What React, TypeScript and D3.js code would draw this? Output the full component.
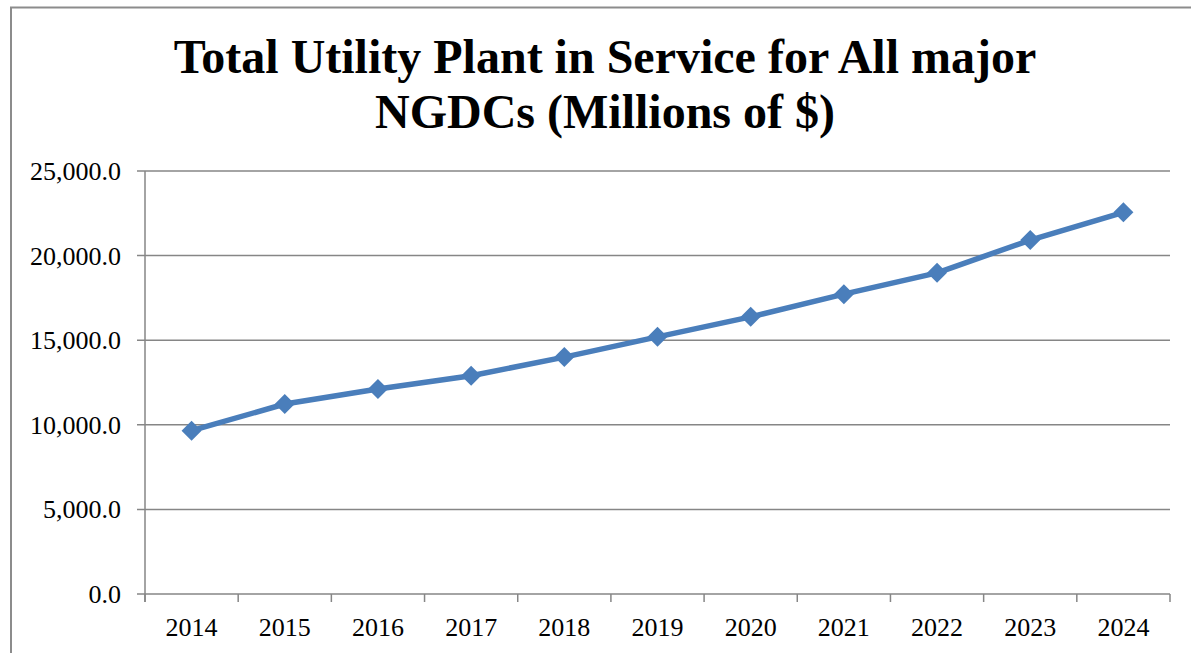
import React from "react";
import * as d3 from "d3";

const years = ["2014","2015","2016","2017","2018","2019","2020","2021","2022","2023","2024"];
const values = [9650, 11230, 12120, 12900, 14000, 15200, 16380, 17720, 18980, 20920, 22560];
const yTicks = [0, 5000, 10000, 15000, 20000, 25000];
const titleLines = ["Total Utility Plant in Service for All major", "NGDCs (Millions of $)"];

const W = 1191, H = 653;
const left = 145, right = 1170, top = 171, bottom = 594;

export default function App() {
  const x = d3.scaleBand<string>().domain(years).range([left, right]).padding(0);
  const y = d3.scaleLinear().domain([0, 25000]).range([bottom, top]);
  const line = d3.line<number>().x((_, i) => x(years[i])! + x.bandwidth() / 2).y(d => y(d));
  const fmt = d3.format(",.1f");
  const font = "'Liberation Serif', 'Times New Roman', serif";
  const grid = "#868686";
  const blue = "#4a7ebb";
  const edges = d3.range(years.length + 1).map(i => left + i * x.bandwidth());
  return (
    <div style={{ position: "fixed", left: 0, top: 0, width: W, height: H, background: "#fff" }}>
      <svg width={W} height={H} style={{ display: "block" }}>
        <rect x={11} y={7.5} width={W + 20} height={H + 20} fill="#fff" stroke="#8c8c8c" strokeWidth={2} />
        {titleLines.map((t, i) => (
          <text key={i} x={605} y={73 + i * 55} textAnchor="middle" fontFamily={font} fontWeight="bold" fontSize={48} fill="#000">{t}</text>
        ))}
        {yTicks.map(t => (
          <g key={t}>
            <line x1={137} x2={right} y1={y(t)} y2={y(t)} stroke={grid} strokeWidth={1.5} />
            <text x={121} y={y(t) + 9} textAnchor="end" fontFamily={font} fontSize={26} fill="#000">{fmt(t)}</text>
          </g>
        ))}
        <line x1={left} x2={left} y1={top} y2={bottom + 8} stroke={grid} strokeWidth={1.5} />
        {edges.map((e, i) => (
          <line key={i} x1={e} x2={e} y1={bottom} y2={bottom + 8} stroke={grid} strokeWidth={1.5} />
        ))}
        {years.map(yr => (
          <text key={yr} x={x(yr)! + x.bandwidth() / 2} y={bottom + 42} textAnchor="middle" fontFamily={font} fontSize={26} fill="#000">{yr}</text>
        ))}
        <path d={line(values)!} fill="none" stroke={blue} strokeWidth={5.5} strokeLinejoin="round" />
        {values.map((v, i) => {
          const cx = x(years[i])! + x.bandwidth() / 2, cy = y(v), r = 10;
          return <path key={i} d={`M${cx},${cy - r}L${cx + r},${cy}L${cx},${cy + r}L${cx - r},${cy}Z`} fill={blue} />;
        })}
      </svg>
    </div>
  );
}
